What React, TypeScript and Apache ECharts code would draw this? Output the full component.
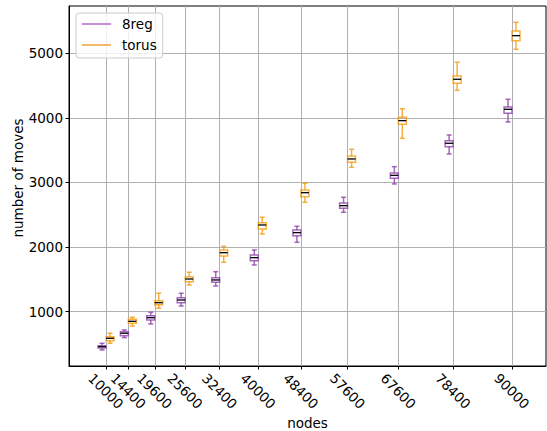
import React, { useEffect, useRef } from "react";
import * as echarts from "echarts";

const nodes = [10000, 14400, 19600, 25600, 32400, 40000, 48400, 57600, 67600, 78400, 90000];
const yTicks = [1000, 2000, 3000, 4000, 5000];

const reg8Min = [407, 598, 810, 1088, 1398, 1723, 2074, 2539, 2977, 3441, 3937];
const reg8Q1 = [439, 628, 872, 1139, 1455, 1789, 2176, 2601, 3065, 3554, 4071];
const reg8Median = [458, 666, 907, 1181, 1491, 1836, 2223, 2641, 3111, 3607, 4133];
const reg8Q3 = [474, 690, 938, 1217, 1526, 1878, 2265, 2683, 3147, 3647, 4169];
const reg8Max = [510, 717, 991, 1285, 1619, 1955, 2322, 2771, 3245, 3735, 4288];

const torusMin = [511, 779, 1053, 1413, 1765, 2203, 2693, 3235, 3684, 4427, 5062];
const torusQ1 = [551, 820, 1108, 1464, 1862, 2280, 2780, 3313, 3901, 4536, 5195];
const torusMedian = [588, 851, 1139, 1506, 1913, 2342, 2842, 3364, 3957, 4598, 5273];
const torusQ3 = [613, 882, 1170, 1542, 1955, 2378, 2884, 3410, 4009, 4649, 5345];
const torusMax = [666, 913, 1285, 1610, 2012, 2461, 2988, 3514, 4142, 4861, 5480];

const FONT = "DejaVu Sans";
const PURPLE = "#8e44ad";
const ORANGE = "#f39c12";

function buildData(mn: number[], q1: number[], md: number[], q3: number[], mx: number[]) {
  return nodes.map((n, i) => [n, mn[i], q1[i], md[i], q3[i], mx[i]]);
}

function makeRender(offset: number) {
  return (params: any, api: any) => {
    const x = api.value(0);
    const pts = [1, 2, 3, 4, 5].map((i) => api.coord([x, api.value(i)]));
    const cx = pts[0][0] + offset;
    const [yMin, yQ1, yMed, yQ3, yMax] = pts.map((p: number[]) => p[1]);
    const color = api.visual("color");
    const ls = { stroke: color, lineWidth: 1.5, opacity: 0.8 };
    const bw = 4;
    const cw = 2.5;
    return {
      type: "group",
      children: [
        { type: "line", shape: { x1: cx, y1: yQ1, x2: cx, y2: yMin }, style: ls },
        { type: "line", shape: { x1: cx, y1: yQ3, x2: cx, y2: yMax }, style: ls },
        { type: "line", shape: { x1: cx - cw, y1: yMin, x2: cx + cw, y2: yMin }, style: ls },
        { type: "line", shape: { x1: cx - cw, y1: yMax, x2: cx + cw, y2: yMax }, style: ls },
        {
          type: "rect",
          shape: { x: cx - bw, y: yQ3, width: bw * 2, height: yQ1 - yQ3 },
          style: { ...ls, fill: "rgba(255,255,255,0)" },
        },
        {
          type: "line",
          shape: { x1: cx - bw, y1: yMed, x2: cx + bw, y2: yMed },
          style: { stroke: "#000", lineWidth: 1.3 },
        },
      ],
    };
  };
}

export default function App() {
  const ref = useRef<HTMLDivElement>(null);
  useEffect(() => {
    if (!ref.current) return;
    const chart = echarts.init(ref.current, null, { renderer: "svg" });
    chart.setOption({
      animation: false,
      textStyle: { fontFamily: FONT },
      grid: {
        left: 69,
        right: 1,
        top: 6,
        bottom: 65,
        containLabel: false,
        outerBoundsMode: "none",
        show: true,
        borderColor: "#000",
        borderWidth: 1,
        backgroundColor: "transparent",
      },
      legend: {
        left: 76,
        top: 13,
        orient: "vertical",
        padding: [4, 6, 6, 6],
        itemGap: 7,
        itemWidth: 29,
        itemHeight: 1.5,
        icon: "rect",
        borderColor: "#cccccc",
        borderWidth: 1,
        borderRadius: 3,
        backgroundColor: "rgba(255,255,255,0.8)",
        textStyle: { fontFamily: FONT, fontSize: 13.5, color: "#000", lineHeight: 14, padding: [0, 0, 0, 6] },
        data: [
          { name: "8reg", itemStyle: { color: "#b36ad0" } },
          { name: "torus", itemStyle: { color: "#eba33a" } },
        ],
      },
      xAxis: {
        type: "value",
        min: 2700,
        max: 96700,
        name: "nodes",
        nameLocation: "middle",
        nameGap: 50,
        nameMoveOverlap: false,
        nameTextStyle: { fontFamily: FONT, fontSize: 13.5, color: "#000" },
        axisLine: { show: true, onZero: false, lineStyle: { color: "#000", width: 1 } },
        axisTick: { show: true, customValues: nodes, length: 3.5, lineStyle: { color: "#000" } },
        axisLabel: {
          customValues: nodes,
          rotate: -45,
          align: "center",
          verticalAlign: "middle",
          margin: 25,
          fontFamily: FONT,
          fontSize: 13.5,
          color: "#000",
          formatter: (v: number) => String(v),
        },
        splitLine: { show: true, lineStyle: { color: "#b0b0b0", width: 1 } },
      },
      yAxis: {
        type: "value",
        min: 159,
        max: 5732,
        axisLine: { show: true, onZero: false, lineStyle: { color: "#000", width: 1 } },
        axisTick: { show: true, customValues: yTicks, length: 3.5, lineStyle: { color: "#000" } },
        axisLabel: {
          customValues: yTicks,
          margin: 6,
          fontFamily: FONT,
          fontSize: 13.5,
          color: "#000",
          formatter: (v: number) => String(v),
        },
        splitLine: { show: true, lineStyle: { color: "#b0b0b0", width: 1 } },
      },
      graphic: [
        {
          type: "text",
          x: 17.7,
          y: 178,
          rotation: Math.PI / 2,
          style: {
            text: "number of moves",
            fontFamily: FONT,
            fontSize: 13.5,
            fill: "#000",
            align: "center",
            verticalAlign: "middle",
          },
        },
      ],
      series: [
        {
          name: "8reg",
          type: "custom",
          color: PURPLE,
          itemStyle: { color: PURPLE },
          renderItem: makeRender(-4),
          encode: { x: 0, y: [1, 2, 3, 4, 5] },
          data: buildData(reg8Min, reg8Q1, reg8Median, reg8Q3, reg8Max),
        },
        {
          name: "torus",
          type: "custom",
          color: ORANGE,
          itemStyle: { color: ORANGE },
          renderItem: makeRender(4),
          encode: { x: 0, y: [1, 2, 3, 4, 5] },
          data: buildData(torusMin, torusQ1, torusMedian, torusQ3, torusMax),
        },
      ],
    });
    return () => chart.dispose();
  }, []);
  return (
    <div
      ref={ref}
      style={{ position: "absolute", left: 0, top: 0, width: 547, height: 431 }}
    />
  );
}
